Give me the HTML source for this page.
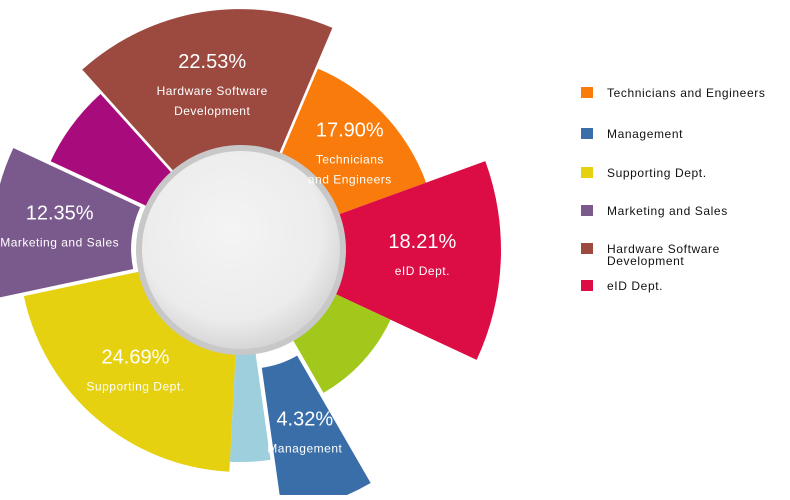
<!DOCTYPE html>
<html><head><meta charset="utf-8"><style>
body{margin:0;background:#fff;width:790px;height:495px;overflow:hidden;font-family:"Liberation Sans",sans-serif}
</style></head><body>
<svg id="chart" width="790" height="495" xmlns="http://www.w3.org/2000/svg">
<defs>
<radialGradient id="hub" cx="45%" cy="40%" r="65%">
<stop offset="0" stop-color="#f4f4f4"/><stop offset="0.7" stop-color="#ececec"/><stop offset="1" stop-color="#cfcfcf"/>
</radialGradient>
</defs>
<g id="slices"></g>
<g id="labels"></g>
<g id="legend"></g>
</svg>
<script>
const categories=["Technicians and Engineers","eID Dept.","Other A","Management","Other B","Supporting Dept.","Marketing and Sales","Other C","Hardware Software Development"];
const spans=[47,45,35,22,11,75,37,23,65];
const radii=[197,260,165,245,212,222,238,210,236];
const explode=[0,0,0,22,0,0,12,0,5];
const colors=["#f97b0c","#dc0c44","#a2c81c","#3a6ea8","#9ecfdc","#e5d10f","#7a5a8c","#a80c7c","#9c4a40"];
const pctLabels=["17.90%","18.21%","","4.32%","","24.69%","12.35%","","22.53%"];
const nameLabels=[["Technicians","and Engineers"],["eID Dept."],[],["Management"],[],["Supporting Dept."],["Marketing and Sales"],[],["Hardware Software","Development"]];
const legendNames=["Technicians and Engineers","Management","Supporting Dept.","Marketing and Sales","Hardware Software|Development","eID Dept."];
const legendColors=["#f97b0c","#3a6ea8","#e5d10f","#7a5a8c","#9c4a40","#dc0c44"];
const startAngle=23;
const cx=241,cy=250,r0=103;
const NS="http://www.w3.org/2000/svg";
function pt(a,r){const t=a*Math.PI/180;return [cx+r*Math.sin(t),cy-r*Math.cos(t)];}
const sg=document.getElementById('slices'),lg=document.getElementById('labels');
let a=startAngle;
spans.forEach((s,i)=>{
  const a0=a,a1=a+s,mid=(a0+a1)/2;a=a1;
  const dx=Math.sin(mid*Math.PI/180)*explode[i],dy=-Math.cos(mid*Math.PI/180)*explode[i];
  const R=radii[i],p1=pt(a0,r0-5),p2=pt(a0,R),p3=pt(a1,R),p4=pt(a1,r0-5);
  const large=s>180?1:0;
  const p=document.createElementNS(NS,'path');
  p.setAttribute('d',`M${p1} L${p2} A${R} ${R} 0 ${large} 1 ${p3} L${p4} A${r0-5} ${r0-5} 0 ${large} 0 ${p1}Z`);
  p.setAttribute('fill',colors[i]);
  p.setAttribute('transform',`translate(${dx},${dy})`);
  
  
  sg.appendChild(p);
  if(pctLabels[i]){
    const [lx,ly]=pt(mid,(r0+R)/2+explode[i]);
    const t=document.createElementNS(NS,'text');
    t.setAttribute('x',lx);t.setAttribute('y',ly-10);t.setAttribute('text-anchor','middle');
    t.setAttribute('fill','#fff');t.setAttribute('font-size','20');
    t.textContent=pctLabels[i];
    
    
    lg.appendChild(t);
    nameLabels[i].forEach((n,j)=>{
      const u=document.createElementNS(NS,'text');
      u.setAttribute('x',lx);u.setAttribute('y',ly+17+j*20);u.setAttribute('text-anchor','middle');
      u.setAttribute('fill','#fff');u.setAttribute('font-size','12');u.setAttribute('letter-spacing','0.5');
      u.textContent=n;
      
      
      lg.appendChild(u);
    });
  }
});
const ring=document.createElementNS(NS,'circle');
ring.setAttribute('cx',cx);ring.setAttribute('cy',cy);ring.setAttribute('r',r0+2);ring.setAttribute('fill','#c8c8c8');


sg.appendChild(ring);
const hub=document.createElementNS(NS,'circle');
hub.setAttribute('cx',cx);hub.setAttribute('cy',cy);hub.setAttribute('r',r0-4);hub.setAttribute('fill','url(#hub)');


sg.appendChild(hub);
const leg=document.getElementById('legend');
const legY=[92,133,172,210,248,285];
legendNames.forEach((n,i)=>{
  const r=document.createElementNS(NS,'rect');
  r.setAttribute('x',581);r.setAttribute('y',legY[i]-5);r.setAttribute('width',12);r.setAttribute('height',11);
  r.setAttribute('fill',legendColors[i]);
  
  
  leg.appendChild(r);
  n.split('|').forEach((line,j)=>{
    const t=document.createElementNS(NS,'text');
    t.setAttribute('x',607);t.setAttribute('y',legY[i]+5+j*12);t.setAttribute('font-size','12');
    t.setAttribute('fill','#111');t.setAttribute('letter-spacing','0.6');
    t.textContent=line;
    
    
    leg.appendChild(t);
  });
});
</script>
</body></html>
